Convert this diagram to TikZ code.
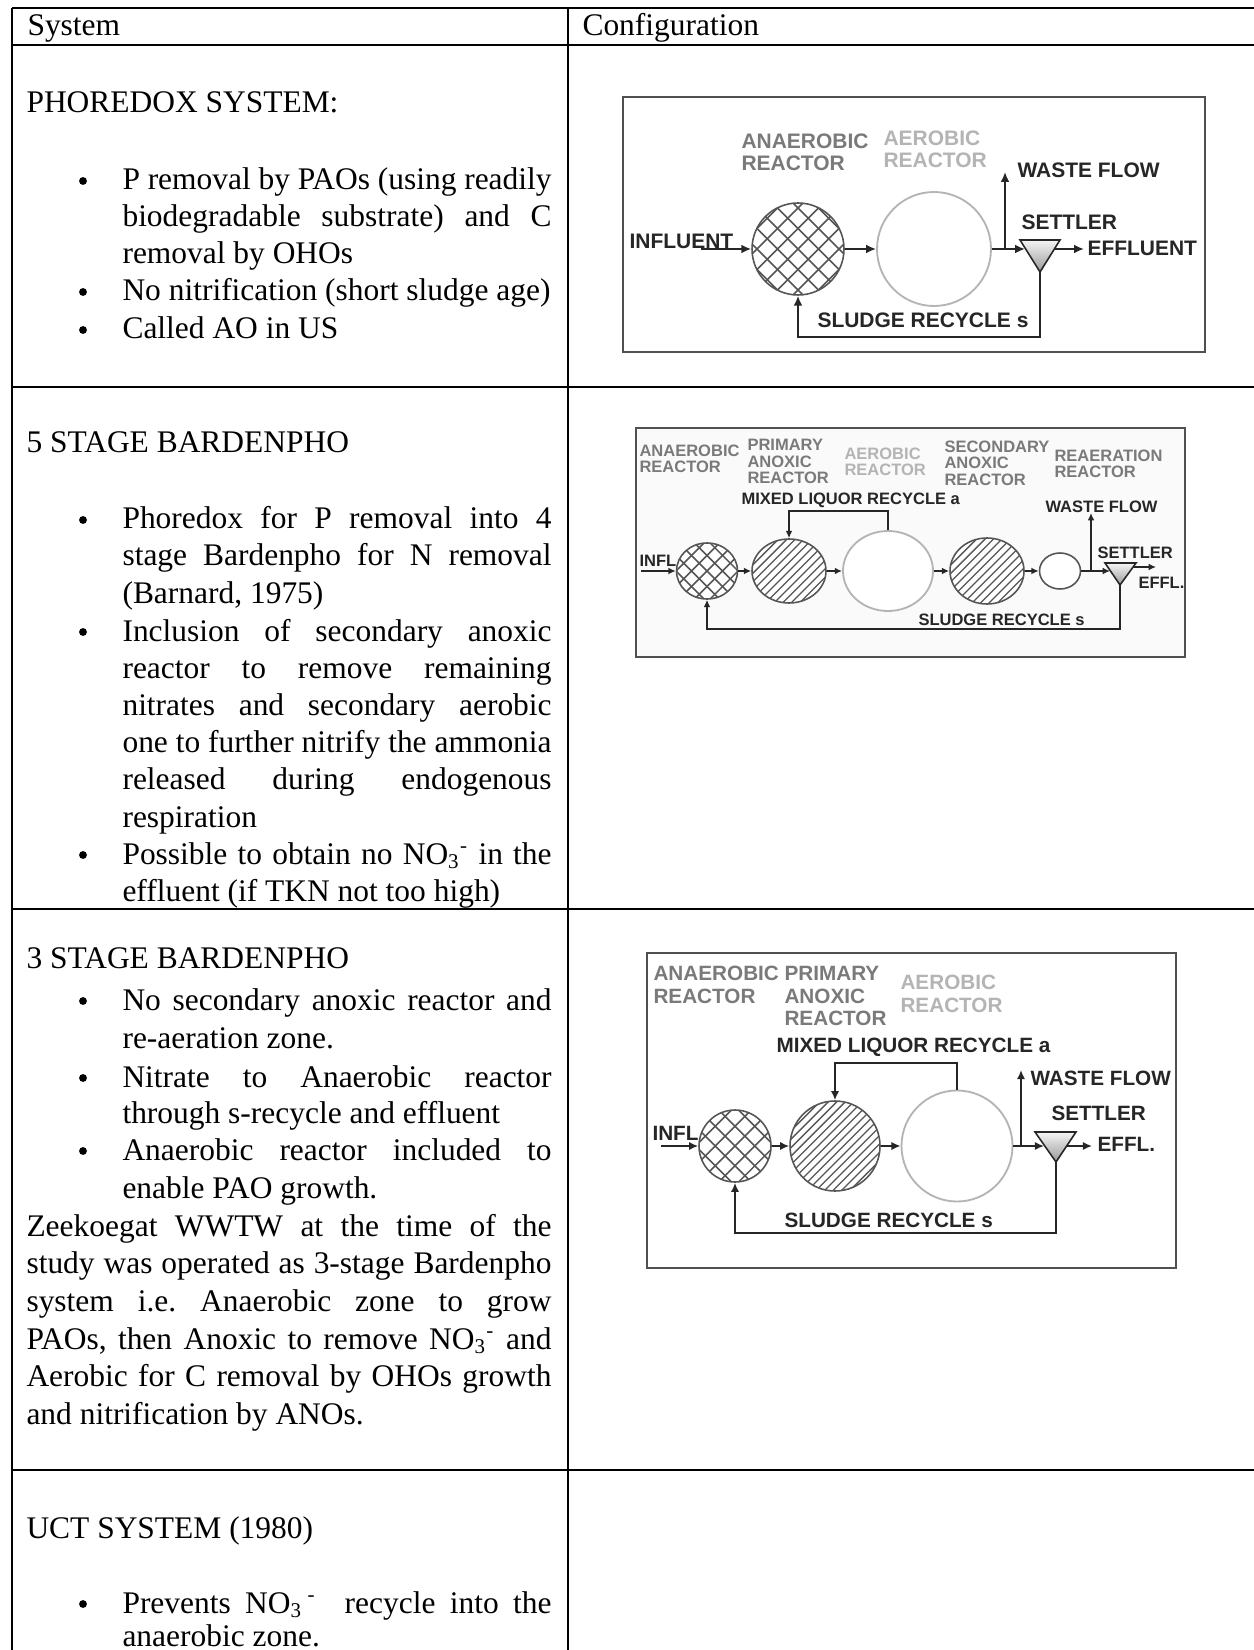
\documentclass[tikz,border=0pt]{standalone}
\usepackage{fontspec}
\setmainfont{Liberation Serif}
\newfontfamily\dfont{Liberation Sans}
\usetikzlibrary{shapes.geometric,arrows.meta,calc}
\newlength\pxu \setlength\pxu{0.3815pt}
\definecolor{ink}{HTML}{262626}
\definecolor{frm}{HTML}{505050}
\definecolor{anaer}{HTML}{7A7A7A}
\definecolor{aerob}{HTML}{B4B4B4}
\definecolor{hatchc}{HTML}{555555}
\frenchspacing
\newcommand\jl[1]{\makebox[163.7pt][s]{#1}}
\newcommand\jw[1]{\makebox[200.3pt][s]{#1}}
\newcommand\crossfill[1]{\foreach \hk in {-9,...,9}{\draw[hatchc,line width=0.6pt,shift={(path picture bounding box.center)}] (\hk*#1*1.4142-150,150) -- ++(300,-300) (\hk*#1*1.4142-150,-150) -- ++(300,300);}}
\newcommand\hatchfill[1]{\foreach \hk in {-14,...,14}{\draw[hatchc,line width=0.5pt,shift={(path picture bounding box.center)}] (\hk*#1*1.4142-150,150) -- ++(300,-300);}}
\newcommand\NOt{NO\textsubscript{3}\textsuperscript{-}}
\tikzset{
  tabline/.style={draw=black, line width=0.8pt},
  body/.style={anchor=base west, inner sep=0pt, font=\fontsize{12pt}{14pt}\selectfont\frenchspacing},
  bul/.style={circle, fill=black, inner sep=0pt, minimum size=3pt},
  frame/.style={draw=frm, line width=0.7pt},
  rsz/.style 2 args={minimum width=#1*\pxu, minimum height=#2*\pxu},
  cross/.style={ellipse, draw=hatchc, line width=0.6pt, fill=white, inner sep=0pt, path picture={\crossfill{#1}}},
  hatch/.style={ellipse, draw=hatchc, line width=0.6pt, fill=white, inner sep=0pt, path picture={\hatchfill{#1}}},
  aer/.style={ellipse, draw=aerob, line width=0.7pt, fill=white, inner sep=0pt},
  small/.style={ellipse, draw=hatchc, line width=0.6pt, fill=white, inner sep=0pt},
  settler/.style={draw=ink, line width=0.6pt, top color=gray!8, bottom color=gray!80},
  flowA/.style={draw=ink, line width=0.75pt, -{Latex[length=3.8pt,width=3.4pt]}},
  flowB/.style={draw=ink, line width=0.55pt, -{Latex[length=2.8pt,width=2.6pt]}},
  flowC/.style={draw=ink, line width=0.7pt, -{Latex[length=3.5pt,width=3.2pt]}},
  fl1/.style={anchor=west, inner sep=0pt, text=ink, font=\dfont\bfseries\fontsize{8pt}{8.4pt}\selectfont},
  fl2/.style={anchor=west, inner sep=0pt, text=ink, font=\dfont\bfseries\fontsize{6.3pt}{6.2pt}\selectfont},
  fl3/.style={anchor=west, inner sep=0pt, text=ink, font=\dfont\bfseries\fontsize{7.9pt}{8.6pt}\selectfont},
  lab1/.style={anchor=north west, inner sep=0pt, align=left, font=\dfont\bfseries\fontsize{8pt}{8.4pt}\selectfont},
  lab2/.style={anchor=north west, inner sep=0pt, align=left, font=\dfont\bfseries\fontsize{6.3pt}{6.3pt}\selectfont},
  lab3/.style={anchor=north west, inner sep=0pt, align=left, font=\dfont\bfseries\fontsize{7.9pt}{8.6pt}\selectfont},
}
\begin{document}
\begin{tikzpicture}[x=0.3815pt, y=-0.3815pt]
\useasboundingbox (0,0) rectangle (1254,1650);
\fill[white] (0,0) rectangle (1254,1650);
% ---------- table ----------
\draw[tabline] (12,8) -- (1254,8);
\draw[tabline] (12,45) -- (1254,45);
\draw[tabline] (12,387) -- (1254,387);
\draw[tabline] (12,909) -- (1254,909);
\draw[tabline] (12,1470) -- (1254,1470);
\draw[tabline] (12,8) -- (12,1650);
\draw[tabline] (568,8) -- (568,1650);
\node[body] (hsys) at (27,36) {System};
\node[body] (hcfg) at (582,36) {Configuration};
% ---------- row 1 text ----------
\node[body] (t1) at (26,113) {PHOREDOX SYSTEM:};
\node[bul] (b11) at (83,181) {};
\node[body] (t11) at (122,190) {\jl{P removal by PAOs (using readily}};
\node[body] (t12) at (122,227) {\jl{biodegradable substrate) and C}};
\node[body] (t13) at (122,264) {removal by OHOs};
\node[bul] (b12) at (83,292) {};
\node[body] (t14) at (122,301) {No nitrification (short sludge age)};
\node[bul] (b13) at (83,330) {};
\node[body] (t15) at (122,339) {Called AO in US};
% ---------- row 2 text ----------
\node[body] (t2) at (26,453) {5 STAGE BARDENPHO};
\node[bul] (b21) at (83,520) {};
\node[body] (t21) at (122,529) {\jl{Phoredox for P removal into 4}};
\node[body] (t22) at (122,566) {\jl{stage Bardenpho for N removal}};
\node[body] (t23) at (122,603) {(Barnard, 1975)};
\node[bul] (b22) at (83,632) {};
\node[body] (t24) at (122,641) {\jl{Inclusion of secondary anoxic}};
\node[body] (t25) at (122,678) {\jl{reactor to remove remaining}};
\node[body] (t26) at (122,715) {\jl{nitrates and secondary aerobic}};
\node[body] (t27) at (122,752) {\jl{one to further nitrify the ammonia}};
\node[body] (t28) at (122,789) {\jl{released during endogenous}};
\node[body] (t29) at (122,827) {respiration};
\node[bul] (b23) at (83,855) {};
\node[body] (t2a) at (122,864) {\jl{Possible to obtain no \NOt{} in the}};
\node[body] (t2b) at (122,901) {effluent (if TKN not too high)};
% ---------- row 3 text ----------
\node[body] (t3) at (26,968) {3 STAGE BARDENPHO};
\node[bul] (b31) at (83,1001) {};
\node[body] (t31) at (122,1010) {\jl{No secondary anoxic reactor and}};
\node[body] (t32) at (122,1048) {re-aeration zone.};
\node[bul] (b32) at (83,1078) {};
\node[body] (t33) at (122,1087) {\jl{Nitrate to Anaerobic reactor}};
\node[body] (t34) at (122,1123) {through s-recycle and effluent};
\node[bul] (b33) at (83,1151) {};
\node[body] (t35) at (122,1160) {\jl{Anaerobic reactor included to}};
\node[body] (t36) at (122,1198) {enable PAO growth.};
\node[body] (t37) at (26,1236) {\jw{Zeekoegat WWTW at the time of the}};
\node[body] (t38) at (26,1273) {\jw{study was operated as 3-stage Bardenpho}};
\node[body] (t39) at (26,1311) {\jw{system i.e. Anaerobic zone to grow}};
\node[body] (t3a) at (26,1349) {\jw{PAOs, then Anoxic to remove \NOt{} and}};
\node[body] (t3b) at (26,1386) {\jw{Aerobic for C removal by OHOs growth}};
\node[body] (t3c) at (26,1424) {and nitrification by ANOs.};
% ---------- row 4 text ----------
\node[body] (t4) at (26,1538) {UCT SYSTEM (1980)};
\node[bul] (b41) at (83,1604) {};
\node[body] (t41) at (122,1613) {\jl{Prevents NO\textsubscript{3}\,\textsuperscript{-} \ recycle into the}};
\node[body] (t42) at (122,1646) {anaerobic zone.};

% ================= Diagram 1: Phoredox =================
\draw[frame] (623,97) rectangle (1205,352);
\node[lab1, text=anaer] (d1an) at (741,133) {ANAEROBIC\\REACTOR};
\node[lab1, text=aerob] (d1ae) at (883,130) {AEROBIC\\REACTOR};
\node[cross=14.5, rsz={92}{92}] (d1c1) at (798,249) {};
\node[aer, rsz={114}{114}] (d1c2) at (934,249) {};
\coordinate (d1sL) at (1020,240);
\coordinate (d1sR) at (1060,240);
\coordinate (d1sA) at (1040,272);
\path[settler] (d1sL) -- (d1sR) -- (d1sA) -- cycle;
\coordinate (d1in) at (701,249);
\coordinate (d1sin) at (1025,249);
\coordinate (d1j) at (1005,249);
\coordinate (d1w) at (1005,172);
\coordinate (d1eo) at (1055,249);
\coordinate (d1ee) at (1084,249);
\coordinate (d1b) at (1040,337);
\draw[flowA] (d1in) -- (d1c1);
\draw[flowA] (d1c1) -- (d1c2);
\draw[flowA] (d1c2) -- (d1sin);
\draw[flowA] (d1j) -- (d1w);
\draw[flowA] (d1eo) -- (d1ee);
\draw[flowA] (d1sA) -- (d1b) -| (d1c1.south);
\node[fl1] (d1inf) at (629,241) {INFLUENT};
\node[fl1] (d1wf) at (1017,170) {WASTE FLOW};
\node[fl1] (d1st) at (1021,222) {SETTLER};
\node[fl1] (d1ef) at (1087,248) {EFFLUENT};
\node[fl1] (d1sr) at (817,320) {SLUDGE RECYCLE s};

% ================= Diagram 2: 5-stage Bardenpho =================
\draw[frame, fill=black!2] (636,428) rectangle (1185,657);
\node[lab2, text=anaer] (d2l1) at (639,444) {ANAEROBIC\\REACTOR};
\node[lab2, text=anaer] (d2l2) at (747,439) {PRIMARY\\ANOXIC\\REACTOR};
\node[lab2, text=aerob] (d2l3) at (844,447) {AEROBIC\\REACTOR};
\node[lab2, text=anaer] (d2l4) at (944,440) {SECONDARY\\ANOXIC\\REACTOR};
\node[lab2, text=anaer] (d2l5) at (1054,449) {REAERATION\\REACTOR};
\node[cross=11, rsz={61}{56}] (d2c1) at (707,571) {};
\node[hatch=6, rsz={74}{64}] (d2c2) at (789,571) {};
\node[aer, rsz={90}{80}] (d2c3) at (888,571) {};
\node[hatch=6, rsz={74}{66}] (d2c4) at (987,571) {};
\node[small, rsz={41}{36}] (d2c5) at (1060,571) {};
\coordinate (d2sL) at (1105,563);
\coordinate (d2sR) at (1136,563);
\coordinate (d2sA) at (1120,585);
\path[settler] (d2sL) -- (d2sR) -- (d2sA) -- cycle;
\coordinate (d2in) at (641,571);
\coordinate (d2sin) at (1110,571);
\coordinate (d2j) at (1091,571);
\coordinate (d2w) at (1091,513);
\coordinate (d2eo) at (1133,567);
\coordinate (d2ee) at (1156,567);
\coordinate (d2b) at (1120,629);
\coordinate (d2m) at (888,511);
\draw[flowB] (d2in) -- (d2c1);
\draw[flowB] (d2c1) -- (d2c2);
\draw[flowB] (d2c2) -- (d2c3);
\draw[flowB] (d2c3) -- (d2c4);
\draw[flowB] (d2c4) -- (d2c5);
\draw[flowB] (d2c5) -- (d2sin);
\draw[flowB] (d2j) -- (d2w);
\draw[flowB] (d2eo) -- (d2ee);
\draw[flowB] (d2sA) -- (d2b) -| (d2c1.south);
\draw[flowB] (d2c3.north) -- (d2m) -| (d2c2.north);
\node[fl2] (d2inf) at (639,561) {INFL};
\node[fl2] (d2ml) at (741,500) {MIXED LIQUOR RECYCLE a};
\node[fl2] (d2wf) at (1045,507) {WASTE FLOW};
\node[fl2] (d2st) at (1097,553) {SETTLER};
\node[fl2] (d2ef) at (1138,583) {EFFL.};
\node[fl2] (d2sr) at (918,620) {SLUDGE RECYCLE s};

% ================= Diagram 3: 3-stage Bardenpho =================
\draw[frame] (647,953) rectangle (1176,1268);
\node[lab3, text=anaer] (d3l1) at (653,966) {ANAEROBIC\\REACTOR};
\node[lab3, text=anaer] (d3l2) at (784,966) {PRIMARY\\ANOXIC\\REACTOR};
\node[lab3, text=aerob] (d3l3) at (900,975) {AEROBIC\\REACTOR};
\node[cross=14, rsz={72}{72}] (d3c1) at (735,1146) {};
\node[hatch=6, rsz={90}{90}] (d3c2) at (835,1146) {};
\node[aer, rsz={111}{111}] (d3c3) at (957,1146) {};
\coordinate (d3sL) at (1035,1132);
\coordinate (d3sR) at (1076,1132);
\coordinate (d3sA) at (1056,1162);
\path[settler] (d3sL) -- (d3sR) -- (d3sA) -- cycle;
\coordinate (d3in) at (661,1146);
\coordinate (d3sin) at (1044,1146);
\coordinate (d3j) at (1021,1146);
\coordinate (d3w) at (1021,1070);
\coordinate (d3eo) at (1067,1146);
\coordinate (d3ee) at (1092,1146);
\coordinate (d3b) at (1056,1233);
\coordinate (d3m) at (957,1063);
\draw[flowC] (d3in) -- (d3c1);
\draw[flowC] (d3c1) -- (d3c2);
\draw[flowC] (d3c2) -- (d3c3);
\draw[flowC] (d3c3) -- (d3sin);
\draw[flowC] (d3j) -- (d3w);
\draw[flowC] (d3eo) -- (d3ee);
\draw[flowC] (d3sA) -- (d3b) -| (d3c1.south);
\draw[flowC] (d3c3.north) -- (d3m) -| (d3c2.north);
\node[fl3] (d3inf) at (652,1133) {INFL};
\node[fl3] (d3ml) at (776,1047) {MIXED LIQUOR RECYCLE a};
\node[fl3] (d3wf) at (1030,1078) {WASTE FLOW};
\node[fl3] (d3st) at (1051,1113) {SETTLER};
\node[fl3] (d3ef) at (1097,1144) {EFFL.};
\node[fl3] (d3sr) at (784,1220) {SLUDGE RECYCLE s};
\end{tikzpicture}
\end{document}
